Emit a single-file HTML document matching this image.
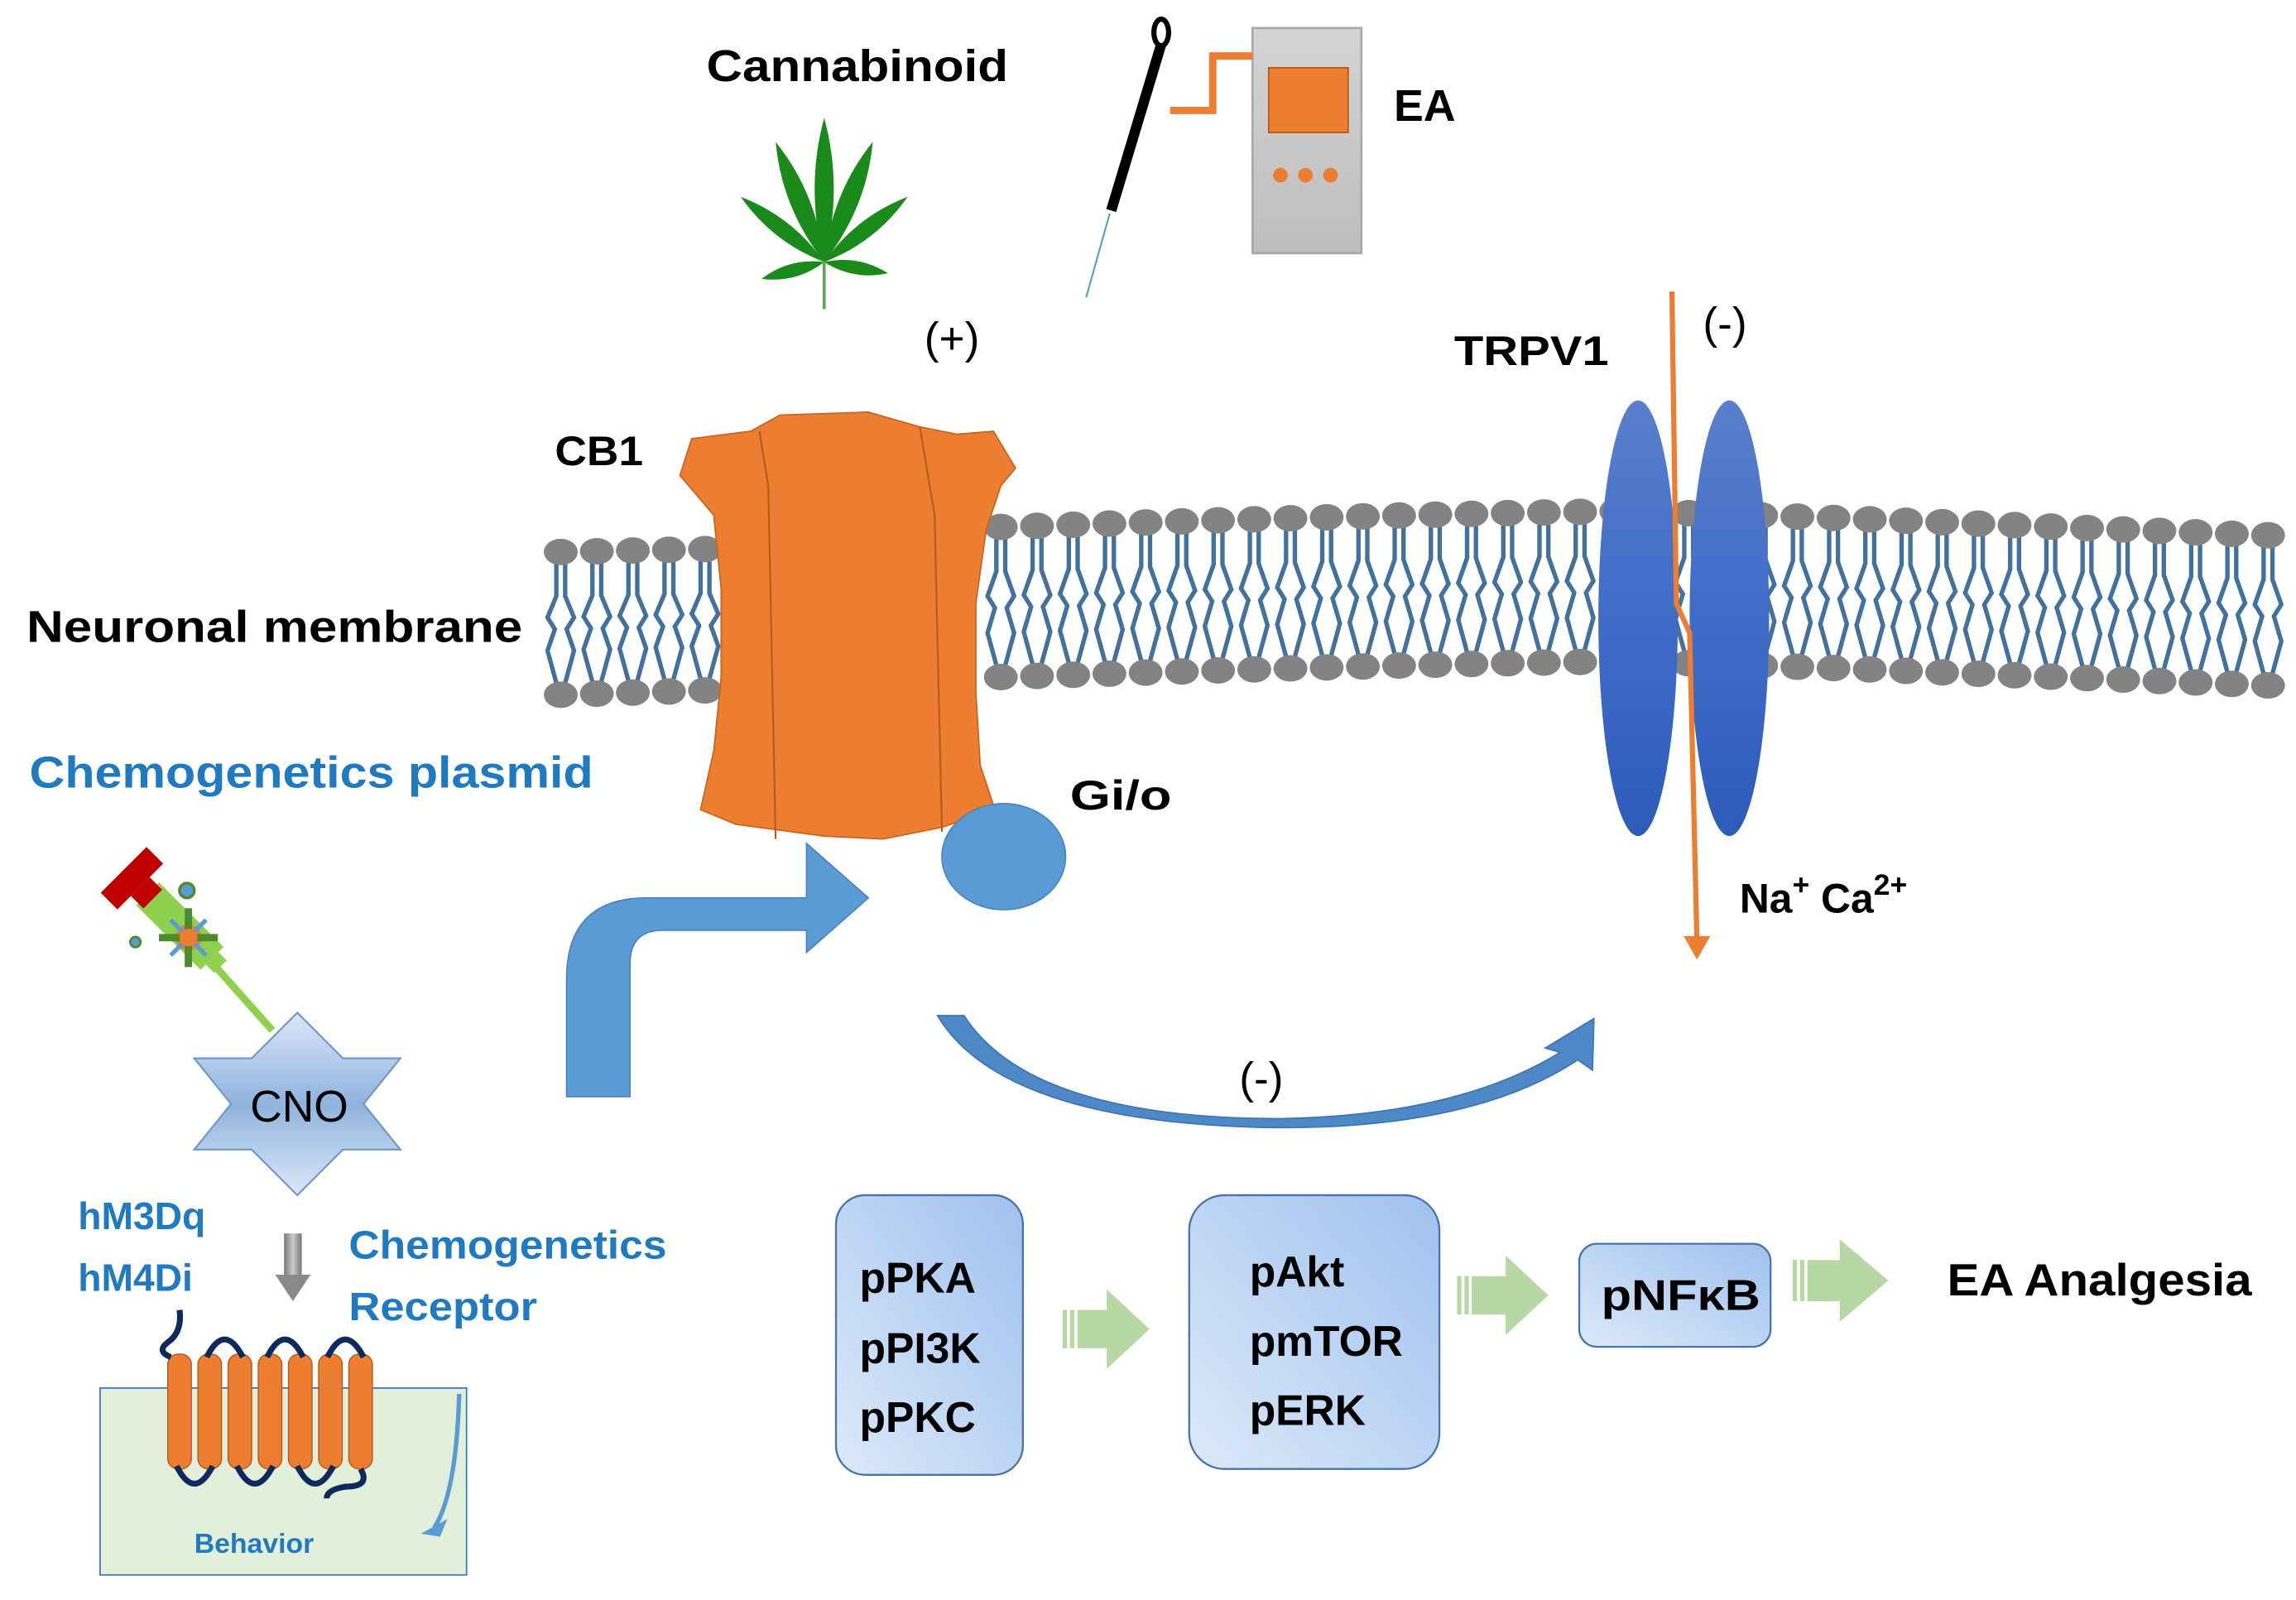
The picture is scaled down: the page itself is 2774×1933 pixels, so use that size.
<!DOCTYPE html>
<html><head><meta charset="utf-8"><style>
html,body{margin:0;padding:0;background:#fff;}
svg{display:block;}
text{font-family:"Liberation Sans",sans-serif;font-weight:bold;}
</style></head><body>
<svg id="s" width="2774" height="1933" viewBox="0 0 1560 1087" xmlns="http://www.w3.org/2000/svg">
<defs>
<linearGradient id="bx" x1="0" y1="1" x2="1" y2="0"><stop offset="0" stop-color="#dce9f9"/><stop offset="1" stop-color="#9fc1ee"/></linearGradient>
<linearGradient id="tr" x1="0" y1="0" x2="0" y2="1"><stop offset="0" stop-color="#5a7fcc"/><stop offset="0.5" stop-color="#3f6cc8"/><stop offset="1" stop-color="#2d5cb8"/></linearGradient>
<linearGradient id="star" x1="0" y1="0" x2="0" y2="1"><stop offset="0" stop-color="#dbe8f7"/><stop offset="0.5" stop-color="#8fb3de"/><stop offset="1" stop-color="#dbe8f7"/></linearGradient>
<linearGradient id="dev" x1="0" y1="0" x2="0" y2="1"><stop offset="0" stop-color="#d4d4d4"/><stop offset="1" stop-color="#bdbdbd"/></linearGradient>
<linearGradient id="garr" x1="0" y1="0" x2="1" y2="0"><stop offset="0" stop-color="#777"/><stop offset="0.5" stop-color="#ccc"/><stop offset="1" stop-color="#777"/></linearGradient>
</defs>
<g id="mem"></g>

<!-- CB1 -->
<path d="M470,298 L510,293 L530,282 L590,280 L625,290 L650,295 L675,293 L690,318 L680,330 L670,360 L663,410 L663,470 L666,520 L676,550 L640,562 L600,570 L560,568 L500,560 L476,550 L485,510 L490,460 L490,400 L485,350 L462,323 Z" fill="#ed7d31" stroke="#c9651f" stroke-width="1"/>
<path d="M516,293 L522,330 L527,570 M625,290 L635,350 L640,565" fill="none" stroke="#b65a1a" stroke-width="1.2"/>
<ellipse cx="682" cy="582" rx="42" ry="36" fill="#5b9bd5" stroke="#4a86bd" stroke-width="1"/>

<!-- big bent arrow -->
<path d="M385,745 L385,665 Q385,610 440,610 L548,610 L548,588 L548,573 L590,610 L548,647 L548,632 L450,632 Q428,632 428,655 L428,745 Z" fill="#5b9bd5" stroke="#4a86bd" stroke-width="1"/>

<!-- TRPV1 -->
<ellipse cx="1113" cy="420" rx="27" ry="148" fill="url(#tr)"/>
<ellipse cx="1175" cy="420" rx="27" ry="148" fill="url(#tr)"/>
<path d="M1136,198 L1139,410 L1148,430 L1153,640" fill="none" stroke="#ed7d31" stroke-width="3.5"/>
<path d="M1144,636 L1162,636 L1153,652 Z" fill="#ed7d31"/>

<!-- curved inhibition arrow -->
<path d="M637,690 L655,690 Q700,760 870,760 Q990,758 1060,715 L1050,712 L1083,692 L1082,727 L1072,720 Q1000,768 860,766 Q680,762 637,690 Z" fill="#4f88c6" stroke="#3d75b5" stroke-width="1"/>

<!-- boxes -->
<rect x="568" y="812" width="127" height="190" rx="20" fill="url(#bx)" stroke="#4a74a8" stroke-width="1.3"/>
<rect x="808" y="812" width="170" height="186" rx="24" fill="url(#bx)" stroke="#4a74a8" stroke-width="1.3"/>
<rect x="1073" y="845" width="130" height="70" rx="12" fill="url(#bx)" stroke="#4a74a8" stroke-width="1.3"/>
<g fill="#b7d7a5">
<path d="M722,890 L752,890 L752,876 L781,903 L752,930 L752,916 L722,916 Z"/>
<path d="M990,867 L1023,867 L1023,853 L1052,880 L1023,907 L1023,893 L990,893 Z"/>
<path d="M1218,856 L1250,856 L1250,842 L1283,870 L1250,898 L1250,884 L1218,884 Z"/>
</g>
<g fill="#fff"><rect x="725" y="889" width="2" height="28"/><rect x="730" y="889" width="2" height="28"/><rect x="993" y="866" width="2" height="28"/><rect x="998" y="866" width="2" height="28"/><rect x="1221" y="855" width="2" height="30"/><rect x="1226" y="855" width="2" height="30"/></g>

<g font-size="29" fill="#000">
<text x="584" y="878">pPKA</text>
<text x="584" y="926">pPI3K</text>
<text x="584" y="973">pPKC</text>
<text x="849" y="874">pAkt</text>
<text x="849" y="921">pmTOR</text>
<text x="849" y="968">pERK</text>
<text x="1088" y="890" textLength="108" lengthAdjust="spacingAndGlyphs">pNFκB</text>
</g>
<text x="1323" y="880" font-size="31" textLength="207" lengthAdjust="spacingAndGlyphs">EA Analgesia</text>

<!-- labels -->
<text x="480" y="55" font-size="30" textLength="205" lengthAdjust="spacingAndGlyphs">Cannabinoid</text>
<text x="947" y="82" font-size="30" textLength="42" lengthAdjust="spacingAndGlyphs">EA</text>
<text x="628" y="240" font-size="30" style="font-weight:normal">(+)</text>
<text x="1157" y="230" font-size="30" style="font-weight:normal">(-)</text>
<text x="842" y="743" font-size="30" style="font-weight:normal">(-)</text>
<text x="988" y="248" font-size="28" textLength="105" lengthAdjust="spacingAndGlyphs">TRPV1</text>
<text x="377" y="316" font-size="28" textLength="60" lengthAdjust="spacingAndGlyphs">CB1</text>
<text x="18" y="436" font-size="30" textLength="337" lengthAdjust="spacingAndGlyphs">Neuronal membrane</text>
<text x="20" y="535" font-size="30" fill="#1f7ac0" textLength="383" lengthAdjust="spacingAndGlyphs">Chemogenetics plasmid</text>
<text x="727" y="550" font-size="28" textLength="69" lengthAdjust="spacingAndGlyphs">Gi/o</text>
<text x="1182" y="620" font-size="28">Na<tspan dy="-12" font-size="20">+</tspan><tspan dy="12"> Ca</tspan><tspan dy="-12" font-size="20">2+</tspan></text>

<!-- leaf -->
<g fill="#1a8a1a" transform="translate(560,178)">
<path d="M0,0 Q13,-50 0,-98 Q-13,-50 0,0Z"/>
<path transform="rotate(-22)" d="M0,0 Q13,-45 0,-88 Q-13,-45 0,0Z"/>
<path transform="rotate(22)" d="M0,0 Q13,-45 0,-88 Q-13,-45 0,0Z"/>
<path transform="rotate(-52)" d="M0,0 Q11,-36 0,-72 Q-11,-36 0,0Z"/>
<path transform="rotate(52)" d="M0,0 Q11,-36 0,-72 Q-11,-36 0,0Z"/>
<path transform="rotate(-105)" d="M0,0 Q9,-22 0,-44 Q-9,-22 0,0Z"/>
<path transform="rotate(100)" d="M0,0 Q9,-22 0,-44 Q-9,-22 0,0Z"/>
<rect x="-1" y="0" width="2" height="32" fill="#5aa55a"/>
</g>

<!-- EA device -->
<rect x="851" y="19" width="74" height="153" fill="url(#dev)" stroke="#a8a8a8" stroke-width="1.5"/>
<rect x="862" y="46" width="54" height="44" fill="#ed7d31" stroke="#b65a1a" stroke-width="1"/>
<circle cx="870" cy="119" r="5" fill="#ed7d31"/><circle cx="887" cy="119" r="5" fill="#ed7d31"/><circle cx="904" cy="119" r="5" fill="#ed7d31"/>
<path d="M795,75 L824,75 L824,38 L851,38" fill="none" stroke="#ed7d31" stroke-width="5"/>
<path d="M789,30 L755,143" stroke="#000" stroke-width="7"/>
<ellipse cx="789" cy="22" rx="5" ry="9" fill="none" stroke="#000" stroke-width="3.5"/>
<path d="M754,145 L738,202" stroke="#5b9bd5" stroke-width="1.2"/>

<!-- syringe -->
<g>
<path d="M145,655 L185,700" stroke="#8fd14f" stroke-width="5"/>
<g transform="translate(125,632) rotate(45)">
<rect x="-35" y="-11" width="62" height="22" fill="#8fd14f"/>
<rect x="27" y="-6" width="8" height="12" fill="#8fd14f"/>
<rect x="-42" y="-9" width="12" height="18" fill="#c00000"/>
<rect x="-58" y="-22" width="16" height="44" fill="#c00000"/>
</g>
<circle cx="128" cy="637" r="9" fill="#ed7d31"/>
<path d="M108,637 L148,637 M128,617 L128,657" stroke="#4e8a2e" stroke-width="5"/>
<path d="M116,625 L140,649 M140,625 L116,649" stroke="#5b9bd5" stroke-width="3"/>
<circle cx="128" cy="637" r="6" fill="#ed7d31"/>
<circle cx="127" cy="605" r="5" fill="#5b9bd5" stroke="#4e8a2e" stroke-width="2"/>
<circle cx="92" cy="640" r="3.5" fill="#5b9bd5" stroke="#4e8a2e" stroke-width="1.5"/>
</g>

<!-- CNO star -->
<path d="M202,688 L233,719 L272,719 L247,750 L272,781 L233,781 L202,812 L171,781 L132,781 L157,750 L132,719 L171,719 Z" fill="url(#star)" stroke="#6d97c9" stroke-width="1.2"/>
<text x="170" y="762" font-size="30" style="font-weight:normal">CNO</text>

<text x="53" y="835" font-size="26" fill="#1f7ac0">hM3Dq</text>
<text x="53" y="877" font-size="26" fill="#1f7ac0">hM4Di</text>
<text x="237" y="855" font-size="27" fill="#1f7ac0" textLength="216" lengthAdjust="spacingAndGlyphs">Chemogenetics</text>
<text x="237" y="897" font-size="27" fill="#1f7ac0" textLength="128" lengthAdjust="spacingAndGlyphs">Receptor</text>
<rect x="193" y="838" width="12" height="30" fill="url(#garr)"/>
<path d="M187,866 L211,866 L199,884 Z" fill="#8a8a8a"/>

<rect x="68" y="943" width="249" height="127" fill="#e2efda" stroke="#4472c4" stroke-width="1"/>
<g id="helix"></g>
<path d="M312,947 Q310,1015 295,1038" fill="none" stroke="#5b9bd5" stroke-width="3"/>
<path d="M286,1042 L304,1032 L299,1044 Z" fill="#5b9bd5"/>
<text x="132" y="1055" font-size="19" fill="#1f7ac0">Behavior</text>
</svg>
<script>
var ns="http://www.w3.org/2000/svg",mem=document.getElementById("mem");
function el(t,a){var e=document.createElementNS(ns,t);for(var k in a)e.setAttribute(k,a[k]);return e;}
function lipid(x,top,bot){
 var mid=(top+bot)/2,g=el("g",{});
 var d="M"+(x-3)+","+(top+8)+" L"+(x-3)+","+(top+30)+" L"+(x-9)+","+(mid-4)+" L"+(x-4)+","+(mid+4)+" L"+(x-9)+","+(bot-30)+" L"+(x-3)+","+(bot-8)+
 " M"+(x+3)+","+(top+8)+" L"+(x+3)+","+(top+30)+" L"+(x+9)+","+(mid-4)+" L"+(x+4)+","+(mid+4)+" L"+(x+9)+","+(bot-30)+" L"+(x+3)+","+(bot-8);
 g.appendChild(el("path",{d:d,fill:"none",stroke:"#41719c","stroke-width":"3"}));
 g.appendChild(el("ellipse",{cx:x,cy:top,rx:11.5,ry:9,fill:"#838383"}));
 g.appendChild(el("ellipse",{cx:x,cy:bot,rx:11.5,ry:9,fill:"#838383"}));
 mem.appendChild(g);
}
for(var x=381;x<=485;x+=24.5)lipid(x,375+(x-381)*-0.02,472-(x-381)*0.03);
for(var x=680;x<=1545;x+=24.6){
 var t=358-12*Math.sin(Math.min(1,(x-680)/600)*Math.PI/2)+ (x>1100?(x-1100)*0.04:0);
 var b=460-12*Math.sin(Math.min(1,(x-680)/600)*Math.PI/2)+ (x>1100?(x-1100)*0.04:0);
 lipid(x,t,b);
}
var h=document.getElementById("helix");
for(var i=0;i<7;i++){var cx=122+i*20.5;
 h.appendChild(el("rect",{x:cx-8,y:920,width:16,height:78,rx:7,fill:"#ed7d31",stroke:"#b65a1a","stroke-width":"0.8"}));}
var p="M122,890 Q124,905 114,912 Q106,918 116,922 ";
for(var i=0;i<6;i++){var a=122+i*20.5,b=a+20.5;
 if(i%2==1)p+="M"+(a-2)+",922 Q"+(a+10)+",898 "+(b+2)+",922 ";
 else p+="M"+(a-2)+",996 Q"+(a+10)+",1020 "+(b+2)+",996 ";}
p+="M245,998 Q252,1010 235,1010 Q222,1012 222,1018";
h.appendChild(el("path",{d:p,fill:"none",stroke:"#0e2a5c","stroke-width":"4"}));
</script>
</body></html>
